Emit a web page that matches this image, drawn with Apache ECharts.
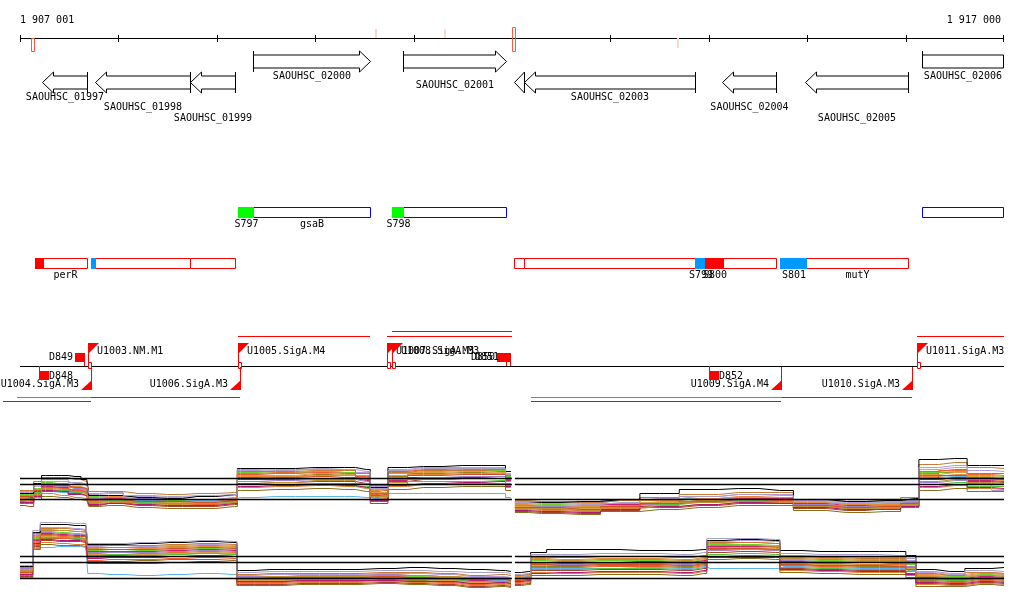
<!DOCTYPE html>
<html><head><meta charset="utf-8">
<script src="https://cdn.jsdelivr.net/npm/echarts/dist/echarts.min.js"></script>
<style>html,body{margin:0;padding:0;background:#fff}#c{width:1024px;height:611px}</style>
</head><body><div id="c"></div><script>
// ---------------- DATA ----------------
const VIEW_START = 1907001, VIEW_END = 1917000;
const rulerTicks = [1907001,1908001,1909001,1910001,1911001,1912001,1913001,1914001,1915001,1916001,1917000];
const rulerLabels = ['1 907 001','1 917 000'];
const markPos = [1907133,1910618,1911320,1912016,1913688];
const markSide = ['below','above','above','both','below'];
const markStrong = [true,false,false,true,false];

const geneNames  = ['SAOUHSC_01997','SAOUHSC_01998','SAOUHSC_01999','SAOUHSC_02000','SAOUHSC_02001','','SAOUHSC_02003','SAOUHSC_02004','SAOUHSC_02005','SAOUHSC_02006'];
const geneStart  = [1907225,1907763,1908729,1909369,1910893,1912021,1912123,1914135,1914978,1916167];
const geneEnd    = [1907682,1908729,1909186,1910558,1911940,1912123,1913860,1914683,1916025,1917400];
const geneStrand = ['-','-','-','+','+','-','-','-','-','+'];

const upperBoxName  = ['gsaB','',''];
const upperBoxStart = [1909369,1910893,1916167];
const upperBoxEnd   = [1910558,1911940,1916990];
const upperSiteName  = ['S797','S798'];
const upperSiteStart = [1909216,1910781];
const upperSiteEnd   = [1909369,1910893];
const upperSiteType  = ['g','g'];

const lowerBoxName  = ['perR','','','','','','mutY'];
const lowerBoxStart = [1907235,1907763,1908729,1912021,1912123,1914145,1914988];
const lowerBoxEnd   = [1907682,1908729,1909186,1912123,1913860,1914683,1916025];
const lowerSiteName  = ['','','S799','S800','S801'];
const lowerSiteStart = [1907153,1907722,1913860,1913962,1914724];
const lowerSiteEnd   = [1907235,1907763,1913962,1914145,1914988];
const lowerSiteType  = ['r','b','b','r','b'];

const promName   = ['U1003.NM.M1','U1004.SigA.M3','U1005.SigA.M4','U1006.SigA.M3','U1007.SigA.M3','U1008.SigA.M3','U1009.SigA.M4','U1010.SigA.M3','U1011.SigA.M3'];
const promPos    = [1907692,1907722,1909216,1909237,1910730,1910781,1914734,1916065,1916115];
const promStrand = ['+','-','+','-','+','+','-','-','+'];

const termName   = ['D848','D849','D850','D851','D852'];
const termPos    = [1907194,1907651,1911940,1911980,1914002];
const termStrand = ['-','+','+','+','-'];

const txStart  = [1909216,1910730,1910781,1916115,1906971,1907722,1906828,1912194,1914744,1912194];
const txEnd    = [1910558,1912000,1912000,1917000,1907722,1909237,1907722,1914744,1916065,1914734];
const txStrand = ['+','+','+','+','-','-','-','-','-','-'];
const txType   = ['r','r','r','r','g','r','r','g','r','r'];

const exprSegments = [[1907001,1912000],[1912030,1917000]];
const topThresholds = [39,33,18];
const botThresholds = [34,28,12];

const topLX = [1907001,1907100,1907180,1907260,1907420,1907560,1907680,1907720,1907900,1908200,1908500,1908800,1909180,1909240,1909600,1910000,1910300,1910520,1910600,1910700,1910780,1911100,1911500,1911880,1911990];
const topRX = [1912030,1912300,1912700,1913100,1913500,1913900,1914300,1914720,1915000,1915400,1915800,1916100,1916170,1916500,1916750,1917000];
const topSamples = [
 [24,24,34,42,42,41,38,22,22,20,19,21,23,49,49,50,50,48,30,30,50,51,52,52,46, 15,15,16,18,24,28,29,27,18,16,17,19,58,59,52,52],
 [20,21,28,33,31,28,27,18,19,16,15,14,17,44,45,46,45,42,26,27,44,47,48,48,42, 11,10,9,13,15,17,19,18,13,11,12,16,44,47,43,42],
 [16,15,22,30,30,26,25,15,17,15,14,13,16,40,41,43,42,39,24,24,41,44,45,46,40, 10,9,7,11,14,16,18,17,12,10,11,14,42,45,40,39],
 [23,23,29,35,33,30,29,21,20,18,17,18,18,45,44,46,45,42,28,28,44,46,47,47,41, 14,13,12,14,16,19,20,20,15,13,14,17,45,46,42,41],
 [25,25,31,36,36,34,32,23,24,21,20,21,22,47,48,48,48,45,31,31,48,50,50,50,44, 16,15,14,17,19,21,23,23,17,15,16,18,48,50,47,46],
 [21,20,26,31,30,27,26,19,19,17,16,16,17,38,38,39,39,37,25,25,37,40,40,41,37, 12,11,10,13,15,18,19,19,14,12,13,15,38,40,37,36],
 [24,24,28,26,25,25,27,22,20,17,16,17,19,20,21,21,21,20,19,20,24,24,24,24,20, 16,16,15,17,18,19,20,20,15,14,15,18,40,41,38,38],
 [12,11,18,26,27,24,22,12,14,12,11,11,13,34,35,36,36,34,14,14,36,38,39,39,34, 6,5,4,7,10,12,14,14,9,7,9,12,38,40,36,35],
 [19,19,25,32,31,29,27,16,17,16,15,16,17,42,42,44,43,40,25,25,42,45,46,45,39, 11,11,9,12,15,17,18,18,13,11,12,15,43,45,41,40],
 [22,22,28,34,34,31,29,20,21,18,18,18,19,41,41,42,42,40,27,28,40,43,44,44,39, 13,12,11,14,17,19,21,20,15,13,13,16,41,43,38,37],
 [18,17,24,30,29,27,25,17,18,15,14,13,15,43,44,45,44,41,23,24,46,48,49,49,43, 9,8,7,10,13,16,17,17,12,10,10,14,46,48,44,44],
 [26,26,33,38,38,35,33,24,25,22,21,22,23,48,47,49,48,46,29,29,47,49,49,49,43, 15,14,13,15,18,21,23,22,16,14,15,17,50,52,33,27],
 [17,16,20,24,22,20,19,14,15,13,12,12,14,30,31,32,31,29,18,19,31,33,34,34,30, 8,7,6,9,11,13,15,15,10,8,9,12,30,32,29,28],
 [14,14,18,21,20,18,17,11,12,10,9,9,11,27,28,29,28,26,16,16,28,30,31,31,27, 5,4,3,6,8,10,12,12,7,5,6,10,27,29,26,26],
 [20,19,25,28,27,25,24,16,17,15,14,14,16,33,33,34,34,31,20,21,33,36,36,37,32, 10,9,8,11,13,15,17,16,11,9,10,13,33,35,31,31],
 [22,22,27,32,31,29,28,19,20,19,18,18,20,36,37,38,38,36,22,22,38,40,41,41,36, 12,11,10,12,14,16,18,18,13,11,12,15,35,37,34,33],
 [15,15,21,27,26,23,22,13,14,13,12,12,14,31,32,33,32,30,17,17,32,34,35,36,31, 7,6,5,8,11,13,15,14,10,8,8,11,31,33,30,29],
 [21,21,27,33,32,30,29,18,18,16,16,15,17,39,40,41,40,38,22,23,39,42,43,43,38, 10,10,8,11,14,16,18,18,12,10,11,14,39,42,39,38],
 [18,18,23,29,28,26,24,15,16,14,13,14,15,36,35,37,37,34,21,21,35,38,39,39,34, 9,9,7,10,12,15,16,16,11,9,10,13,36,38,35,34],
 [27,27,36,40,40,38,36,26,26,24,23,24,25,46,46,47,47,44,32,32,45,47,47,48,42, 17,16,15,17,20,23,25,25,18,16,17,20,53,55,50,49]
];
const botLX = [1907001,1907100,1907160,1907255,1907400,1907560,1907670,1907710,1907915,1908220,1908525,1908830,1909175,1909235,1909540,1909845,1910250,1910660,1910965,1911270,1911575,1911880,1911990];
const botRX = [1912030,1912165,1912215,1912490,1912895,1913300,1913710,1913950,1914010,1914320,1914680,1914765,1915130,1915535,1915940,1916065,1916145,1916450,1916755,1917000];
const botSamples = [
 [24,24,58,66,66,65,65,46,46,47,48,49,48,20,21,21,21,22,23,22,21,20,19, 18,19,38,41,41,40,40,41,50,51,50,40,39,39,39,35,21,19,22,23],
 [18,19,48,55,54,53,52,37,38,37,38,39,38,11,11,12,12,13,12,11,9,10,9, 11,12,26,26,27,28,27,29,43,44,43,28,27,26,26,23,12,11,13,12],
 [15,15,45,52,52,51,50,35,35,36,37,37,36,9,9,10,10,11,10,9,7,8,7, 9,10,24,24,25,25,24,26,41,42,41,26,25,24,24,21,10,9,11,10],
 [21,21,52,59,58,57,56,40,41,40,41,42,41,13,13,13,14,15,14,13,11,12,11, 13,14,30,29,30,30,29,31,46,46,45,31,30,29,29,26,15,14,16,15],
 [23,23,56,63,63,62,61,44,45,44,45,46,45,15,16,16,16,17,17,16,14,14,13, 15,16,34,33,34,34,33,35,49,50,49,35,34,33,33,30,18,16,18,17],
 [19,20,50,57,56,55,55,39,39,39,40,41,40,12,12,12,13,14,13,12,10,11,10, 12,13,28,27,28,29,28,30,44,44,44,29,28,28,27,24,13,12,14,13],
 [20,20,43,43,44,44,43,17,16,15,16,17,16,10,10,11,11,12,11,10,9,10,9, 10,11,22,22,22,23,22,24,22,22,22,24,23,22,22,20,12,11,13,12],
 [14,14,44,50,49,49,48,27,27,27,28,29,28,6,6,7,7,8,7,6,4,5,4, 6,7,20,20,21,21,20,22,38,39,38,22,21,20,20,17,7,6,8,7],
 [17,17,47,54,53,52,52,36,36,36,37,38,37,10,10,11,11,12,11,10,8,9,8, 10,11,25,25,26,26,25,27,42,43,42,27,26,25,25,22,11,10,12,11],
 [22,22,54,61,60,59,59,42,43,42,43,44,43,14,14,15,15,16,15,14,12,13,12, 14,15,32,31,32,32,31,33,47,48,47,33,32,31,31,28,16,15,17,16],
 [16,16,46,53,52,52,51,30,31,31,32,33,32,8,8,9,9,10,9,8,6,7,6, 8,9,23,23,24,24,23,25,40,41,40,25,24,23,23,19,9,8,10,9],
 [25,25,60,68,68,67,67,47,47,48,49,50,49,18,19,19,19,20,20,19,18,18,17, 16,17,36,36,37,37,36,38,52,52,51,37,36,36,35,32,19,17,20,19],
 [13,13,42,48,47,46,46,33,33,33,34,35,34,7,7,8,8,9,8,7,5,6,5, 7,8,18,17,18,18,17,19,34,35,34,20,19,18,18,15,6,5,7,6],
 [12,12,41,46,45,45,44,29,29,30,31,31,30,5,5,6,6,7,6,5,3,4,3, 5,6,15,15,16,16,15,17,31,32,31,18,17,16,16,13,4,4,6,5],
 [19,19,49,53,53,52,51,35,36,35,36,37,36,11,11,12,12,12,11,11,9,9,8, 11,12,21,21,22,22,21,23,36,37,36,23,22,21,21,19,11,10,12,11],
 [22,22,53,58,57,56,56,38,38,38,39,40,39,14,14,14,15,16,15,14,12,12,11, 13,14,27,26,27,27,26,28,40,41,40,30,29,28,27,24,14,13,15,14],
 [16,16,47,51,50,50,49,32,33,33,34,35,34,9,9,10,10,10,9,9,7,8,7, 9,10,17,18,19,19,18,20,33,33,33,21,20,19,19,16,8,7,9,8],
 [18,18,51,56,55,54,54,41,41,41,42,43,42,12,13,13,13,14,13,12,11,11,10, 10,11,26,25,26,26,25,27,42,42,41,26,25,25,24,21,12,11,13,12],
 [20,20,55,60,60,59,58,43,43,43,44,45,44,13,14,14,14,15,15,14,13,13,12, 12,13,31,30,31,31,30,32,45,45,44,32,31,30,30,27,14,13,15,14],
 [23,23,57,62,62,61,60,45,45,45,46,47,46,16,17,17,17,18,18,17,15,16,15, 15,16,33,33,34,34,33,35,48,48,47,34,33,32,32,29,17,15,18,17]
];

// ---------------- LAYOUT / STYLE ----------------
const FONT = '10px "DejaVu Sans Mono", monospace';
const LINE_COLORS = ['#000000','#e8702a','#9a7d1e','#6fd02a','#b79adf','#c8207a','#5ab4ee','#a8402a','#d8a040','#e88a3a','#f05a30','#a8a0c8',
                     '#e07b39','#8a6d1a','#58c040','#a080d0','#b01870','#d05020','#c09030','#c87830'];
const SITE_COLORS = {g:'#00ff00', r:'#ff0000', b:'#0099ff'};
const TX_COLORS = {g:'#00dd00', r:'#ff0000'};
const RED = '#ff0000';
const geneLabelLane = [0,1,2,0,1,0,0,1,2,0];
const txLane = [0,0,1,0,0,0,1,0,0,1];

function txt(text, x, y, align) {
  return {type:'text', silent:true, style:{text:text, x:x, y:y, fill:'#000', font:FONT,
    align:align||'center', verticalAlign:'middle', textAlign:align||'center', textVerticalAlign:'middle'}};
}
function X(api, pos){ return Math.round(api.coord([pos, 0])[0]); }
function ln(x1,y1,x2,y2,color,w){ return {type:'line', silent:true, shape:{x1:x1,y1:y1,x2:x2,y2:y2}, style:{stroke:color, lineWidth:w||1}}; }
function rc(x,y,w,h,fill,stroke){ return {type:'rect', silent:true, shape:{x:x,y:y,width:w,height:h}, style:{fill:fill||'none', stroke:stroke||'none', lineWidth:1}}; }

const base = {type:'custom', xAxisIndex:0, yAxisIndex:0, silent:true, animation:false, clip:false};

const series = [];
// ruler
series.push(Object.assign({}, base, {data:[[VIEW_START, VIEW_END]], renderItem:function(p, api){
  const x0 = X(api, VIEW_START), x1 = X(api, VIEW_END);
  return {type:'group', children:[ln(x0,38.5,x1,38.5,'#000'), txt(rulerLabels[0], x0, 20, 'left'), txt(rulerLabels[1], x1-3, 20, 'right')]};
}}));
series.push(Object.assign({}, base, {data:rulerTicks.map(function(t){return [t,0];}), renderItem:function(p, api){
  const x = X(api, rulerTicks[p.dataIndex]) - (p.dataIndex === rulerTicks.length-1 ? 1 : 0) + 0.5;
  return ln(x, 35, x, 42, '#000');
}}));
series.push(Object.assign({}, base, {data:markPos.map(function(t){return [t,0];}), renderItem:function(p, api){
  const i = p.dataIndex, x = X(api, markPos[i]);
  const side = markSide[i];
  const y0 = side === 'below' ? 38 : (side === 'above' ? 29 : 27);
  const y1 = side === 'above' ? 38 : (side === 'below' ? (markStrong[i] ? 51 : 48) : 51);
  if (markStrong[i]) return rc(x-1.5, y0+0.5, 3, y1-y0, 'none', '#ff5a3c');
  return rc(x-1, y0, 2, y1-y0, '#ffd6c6');
}}));
// genes
series.push(Object.assign({}, base, {data:geneStart.map(function(s,i){return [s, geneEnd[i]];}), renderItem:function(p, api){
  const i = p.dataIndex, fwd = geneStrand[i] === '+';
  const yc = fwd ? 61.5 : 82.5, bh = 6.5, hh = 10.5;
  const clipped = geneEnd[i] > VIEW_END;
  const xs = X(api, geneStart[i]) + 0.5, xe = X(api, Math.min(geneEnd[i], VIEW_END)) - (clipped ? 1 : 0) + 0.5;
  const a = fwd ? xs : xe, b = fwd ? xe : xs, dir = fwd ? 1 : -1;
  const children = [];
  if (clipped) {
    children.push(rc(xs, yc-bh, xe-xs, 2*bh, '#fff', '#000'));
    children.push(ln(a, yc-hh, a, yc+bh, '#000'));
  } else {
    const hl = Math.min(11, Math.abs(b-a));
    const hx = b - dir*hl;
    children.push({type:'polygon', silent:true, shape:{points:[[a,yc-bh],[hx,yc-bh],[hx,yc-hh],[b,yc],[hx,yc+hh],[hx,yc+bh],[a,yc+bh]]}, style:{fill:'#fff', stroke:'#000', lineWidth:1}});
    children.push(ln(a, yc-hh, a, yc+hh, '#000'));
  }
  if (geneNames[i]) {
    const lane = geneLabelLane[i];
    const ly = fwd ? [76, 85, 94][lane] : [97, 107.5, 118][lane];
    children.push(txt(geneNames[i], (xs+xe)/2, ly, 'center'));
  }
  return {type:'group', children:children};
}}));
// feature boxes and sites
function boxTrack(names, starts, ends, yTop, color, labelY) {
  return Object.assign({}, base, {data:starts.map(function(s,i){return [s, ends[i]];}), renderItem:function(p, api){
    const i = p.dataIndex, xs = X(api, starts[i]) + 0.5, xe = X(api, ends[i]) + 0.5;
    const ch = [rc(xs, yTop+0.5, xe-xs, 10, '#fff', color)];
    if (names[i]) ch.push(txt(names[i], (xs+xe)/2, labelY, 'center'));
    return {type:'group', children:ch};
  }});
}
function siteTrack(names, starts, ends, types, yTop, labelY) {
  return Object.assign({}, base, {z:3, data:starts.map(function(s,i){return [s, ends[i]];}), renderItem:function(p, api){
    const i = p.dataIndex, xs = X(api, starts[i]), xe = X(api, ends[i]);
    const ch = [rc(xs, yTop, xe-xs+1, 11, SITE_COLORS[types[i]])];
    if (names[i]) ch.push(txt(names[i], (xs+xe)/2+1, labelY, 'center'));
    return {type:'group', children:ch};
  }});
}
series.push(boxTrack(upperBoxName, upperBoxStart, upperBoxEnd, 207, '#0000ff', 224));
series.push(siteTrack(upperSiteName, upperSiteStart, upperSiteEnd, upperSiteType, 207, 224));
series.push(boxTrack(lowerBoxName, lowerBoxStart, lowerBoxEnd, 258, RED, 275.5));
series.push(siteTrack(lowerSiteName, lowerSiteStart, lowerSiteEnd, lowerSiteType, 258, 275.5));
// promoter baseline
series.push(Object.assign({}, base, {data:[[VIEW_START, VIEW_END]], renderItem:function(p, api){
  return ln(X(api, VIEW_START), 366.5, X(api, VIEW_END), 366.5, '#000');
}}));
// transcripts
series.push(Object.assign({}, base, {data:txStart.map(function(s,i){return [s, txEnd[i]];}), renderItem:function(p, api){
  const i = p.dataIndex, fwd = txStrand[i] === '+';
  const y = fwd ? [336.5, 331.5][txLane[i]] : [397.5, 401.5][txLane[i]];
  return ln(X(api, txStart[i]), y, X(api, txEnd[i]), y, TX_COLORS[txType[i]]);
}}));
// promoters
series.push(Object.assign({}, base, {z:3, data:promPos.map(function(s){return [s, 0];}), renderItem:function(p, api){
  const i = p.dataIndex, x = X(api, promPos[i]);
  if (promStrand[i] === '+') {
    return {type:'group', children:[
      ln(x+0.5, 366, x+0.5, 343, RED),
      {type:'polygon', silent:true, shape:{points:[[x,343],[x+11,343],[x,354]]}, style:{fill:RED}},
      rc(x+0.5, 362.5, 3, 6, '#fff', RED),
      txt(promName[i], x+9, 351, 'left')
    ]};
  }
  return {type:'group', children:[
    ln(x+0.5, 367, x+0.5, 390, RED),
    {type:'polygon', silent:true, shape:{points:[[x+1,390],[x-10,390],[x+1,380]]}, style:{fill:RED}},
    txt(promName[i], x-12, 384, 'right')
  ]};
}}));
// terminators
series.push(Object.assign({}, base, {z:4, data:termPos.map(function(s){return [s, 0];}), renderItem:function(p, api){
  const i = p.dataIndex, x = X(api, termPos[i]);
  if (termStrand[i] === '+') {
    return {type:'group', children:[ln(x+0.5, 366, x+0.5, 360, RED), rc(x-9, 353, 10, 9, RED), txt(termName[i], x-11, 357, 'right')]};
  }
  return {type:'group', children:[ln(x+0.5, 366, x+0.5, 372, RED), rc(x, 371, 10, 9, RED), txt(termName[i], x+10, 376, 'left')]};
}}));

// expression panels
function exprSeries(xL, xR, samples, axis) {
  samples.forEach(function(vals, k){
    [[xL, vals.slice(0, xL.length)], [xR, vals.slice(xL.length)]].forEach(function(seg){
      series.push({type:'line', xAxisIndex:axis, yAxisIndex:axis, step:'middle', symbol:'none', silent:true, animation:false,
        z: (k === 0 || k === 11) ? 3 : 2,
        lineStyle:{color:LINE_COLORS[k], width:1}, itemStyle:{color:LINE_COLORS[k]},
        data:seg[0].map(function(x,j){return [x, seg[1][j]];})});
    });
  });
}
function thresholdSeries(ths, axis) {
  ths.forEach(function(t){
    exprSegments.forEach(function(s){
      series.push({type:'line', xAxisIndex:axis, yAxisIndex:axis, symbol:'none', silent:true, animation:false, z:5,
        lineStyle:{color:'#000', width:1.3}, data:[[s[0], t],[s[1], t]]});
    });
  });
}
exprSeries(topLX, topRX, topSamples, 1);
exprSeries(botLX, botRX, botSamples, 2);
thresholdSeries(topThresholds, 1);
thresholdSeries(botThresholds, 2);

const xAx = {type:'value', min:VIEW_START, max:VIEW_END, show:false};
const chart = echarts.init(document.getElementById('c'));
chart.setOption({
  animation:false,
  grid:[
    {left:20, right:20, top:0, bottom:0},
    {left:20, right:20, top:452.5, height:65},
    {left:20, right:20, top:517.5, height:73}
  ],
  xAxis:[Object.assign({gridIndex:0}, xAx), Object.assign({gridIndex:1}, xAx), Object.assign({gridIndex:2}, xAx)],
  yAxis:[
    {gridIndex:0, type:'value', min:0, max:611, inverse:true, show:false},
    {gridIndex:1, type:'value', min:0, max:65, show:false},
    {gridIndex:2, type:'value', min:0, max:73, show:false}
  ],
  series:series
});
</script></body></html>
